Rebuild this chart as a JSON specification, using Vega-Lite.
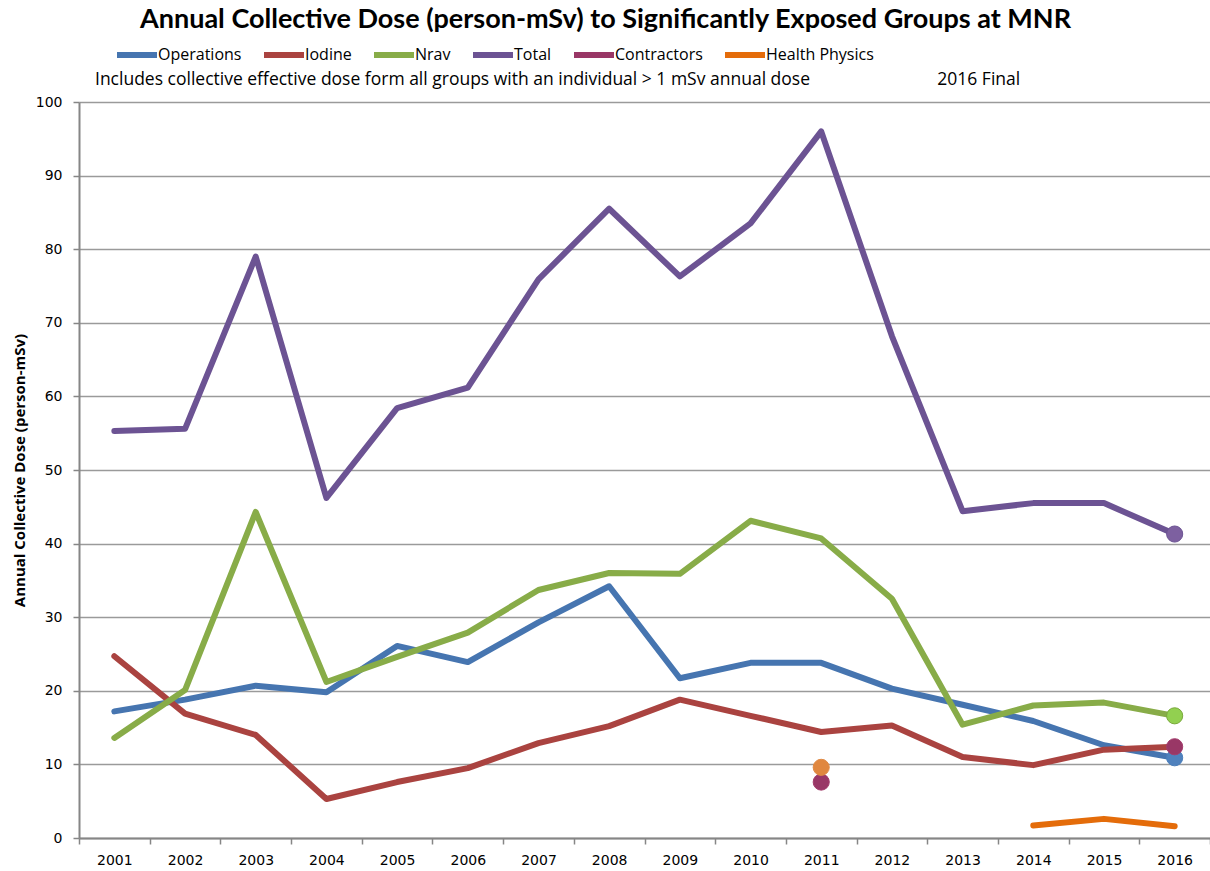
{
  "$schema": "https://vega.github.io/schema/vega-lite/v6.json",
  "autosize": {"type": "none"},
  "width": 1131,
  "height": 736,
  "padding": {"left": 79, "top": 102, "right": 0, "bottom": 33},
  "background": "white",
  "title": {
    "text": "Annual Collective Dose (person-mSv) to Significantly Exposed Groups at MNR",
    "anchor": "start",
    "frame": "group",
    "dx": 61,
    "offset": -2,
    "font": "Lato",
    "fontSize": 27,
    "fontWeight": "bold",
    "color": "#000000"
  },
  "data": {
    "values": [
      {"year": "2001", "series": "Operations", "dose": 17.2},
      {"year": "2002", "series": "Operations", "dose": 18.8},
      {"year": "2003", "series": "Operations", "dose": 20.7},
      {"year": "2004", "series": "Operations", "dose": 19.8},
      {"year": "2005", "series": "Operations", "dose": 26.1},
      {"year": "2006", "series": "Operations", "dose": 23.9},
      {"year": "2007", "series": "Operations", "dose": 29.3},
      {"year": "2008", "series": "Operations", "dose": 34.2},
      {"year": "2009", "series": "Operations", "dose": 21.7},
      {"year": "2010", "series": "Operations", "dose": 23.8},
      {"year": "2011", "series": "Operations", "dose": 23.8},
      {"year": "2012", "series": "Operations", "dose": 20.3},
      {"year": "2013", "series": "Operations", "dose": 18.1},
      {"year": "2014", "series": "Operations", "dose": 15.9},
      {"year": "2015", "series": "Operations", "dose": 12.6},
      {"year": "2016", "series": "Operations", "dose": 10.9},

      {"year": "2001", "series": "Iodine", "dose": 24.7},
      {"year": "2002", "series": "Iodine", "dose": 16.9},
      {"year": "2003", "series": "Iodine", "dose": 14.0},
      {"year": "2004", "series": "Iodine", "dose": 5.3},
      {"year": "2005", "series": "Iodine", "dose": 7.6},
      {"year": "2006", "series": "Iodine", "dose": 9.5},
      {"year": "2007", "series": "Iodine", "dose": 12.9},
      {"year": "2008", "series": "Iodine", "dose": 15.2},
      {"year": "2009", "series": "Iodine", "dose": 18.8},
      {"year": "2010", "series": "Iodine", "dose": 16.6},
      {"year": "2011", "series": "Iodine", "dose": 14.4},
      {"year": "2012", "series": "Iodine", "dose": 15.3},
      {"year": "2013", "series": "Iodine", "dose": 11.0},
      {"year": "2014", "series": "Iodine", "dose": 9.9},
      {"year": "2015", "series": "Iodine", "dose": 12.0},
      {"year": "2016", "series": "Iodine", "dose": 12.4},

      {"year": "2001", "series": "Nrav", "dose": 13.6},
      {"year": "2002", "series": "Nrav", "dose": 20.1},
      {"year": "2003", "series": "Nrav", "dose": 44.3},
      {"year": "2004", "series": "Nrav", "dose": 21.2},
      {"year": "2005", "series": "Nrav", "dose": 24.6},
      {"year": "2006", "series": "Nrav", "dose": 27.9},
      {"year": "2007", "series": "Nrav", "dose": 33.7},
      {"year": "2008", "series": "Nrav", "dose": 36.0},
      {"year": "2009", "series": "Nrav", "dose": 35.9},
      {"year": "2010", "series": "Nrav", "dose": 43.1},
      {"year": "2011", "series": "Nrav", "dose": 40.7},
      {"year": "2012", "series": "Nrav", "dose": 32.5},
      {"year": "2013", "series": "Nrav", "dose": 15.4},
      {"year": "2014", "series": "Nrav", "dose": 18.0},
      {"year": "2015", "series": "Nrav", "dose": 18.4},
      {"year": "2016", "series": "Nrav", "dose": 16.6},

      {"year": "2001", "series": "Total", "dose": 55.3},
      {"year": "2002", "series": "Total", "dose": 55.6},
      {"year": "2003", "series": "Total", "dose": 79.0},
      {"year": "2004", "series": "Total", "dose": 46.2},
      {"year": "2005", "series": "Total", "dose": 58.4},
      {"year": "2006", "series": "Total", "dose": 61.2},
      {"year": "2007", "series": "Total", "dose": 75.9},
      {"year": "2008", "series": "Total", "dose": 85.5},
      {"year": "2009", "series": "Total", "dose": 76.3},
      {"year": "2010", "series": "Total", "dose": 83.5},
      {"year": "2011", "series": "Total", "dose": 96.0},
      {"year": "2012", "series": "Total", "dose": 68.2},
      {"year": "2013", "series": "Total", "dose": 44.4},
      {"year": "2014", "series": "Total", "dose": 45.5},
      {"year": "2015", "series": "Total", "dose": 45.5},
      {"year": "2016", "series": "Total", "dose": 41.3},

      {"year": "2011", "series": "Contractors", "dose": 7.6},
      {"year": "2012", "series": "Contractors", "dose": null},
      {"year": "2013", "series": "Contractors", "dose": null},
      {"year": "2014", "series": "Contractors", "dose": null},
      {"year": "2015", "series": "Contractors", "dose": null},
      {"year": "2016", "series": "Contractors", "dose": 12.4},

      {"year": "2011", "series": "Health Physics", "dose": 9.6},
      {"year": "2012", "series": "Health Physics", "dose": null},
      {"year": "2013", "series": "Health Physics", "dose": null},
      {"year": "2014", "series": "Health Physics", "dose": 1.7},
      {"year": "2015", "series": "Health Physics", "dose": 2.6},
      {"year": "2016", "series": "Health Physics", "dose": 1.6}
    ]
  },
  "encoding": {
    "x": {
      "field": "year",
      "type": "ordinal",
      "scale": {"type": "band", "paddingInner": 0, "paddingOuter": 0},
      "axis": {
        "title": null,
        "labelAngle": 0,
        "labelFont": "DejaVu Sans",
        "labelFontSize": 14,
        "labelColor": "#000000",
        "labelPadding": 9,
        "domainColor": "#868686",
        "domainWidth": 2,
        "tickColor": "#868686",
        "tickWidth": 1.5,
        "tickSize": 6,
        "tickBand": "extent",
        "grid": false
      }
    },
    "y": {
      "field": "dose",
      "type": "quantitative",
      "scale": {"domain": [0, 100], "nice": false},
      "axis": {
        "title": "Annual Collective Dose (person-mSv)",
        "titleFont": "Open Sans",
        "titleFontSize": 15,
        "titleFontWeight": "bold",
        "titleColor": "#000000",
        "titlePadding": 8,
        "values": [0, 10, 20, 30, 40, 50, 60, 70, 80, 90, 100],
        "labelFont": "DejaVu Sans",
        "labelFontSize": 14,
        "labelColor": "#000000",
        "labelPadding": 11,
        "domainColor": "#868686",
        "domainWidth": 2,
        "tickColor": "#868686",
        "tickWidth": 1.5,
        "tickSize": 6,
        "gridColor": "#9a9a9a",
        "gridWidth": 1.5
      }
    }
  },
  "layer": [
    {
      "mark": {
        "type": "line",
        "strokeWidth": 6,
        "strokeCap": "round",
        "strokeJoin": "round",
        "invalid": "break-paths-show-domains"
      },
      "encoding": {
        "color": {
          "field": "series",
          "type": "nominal",
          "sort": ["Operations", "Iodine", "Nrav", "Total", "Contractors", "Health Physics"],
          "scale": {
            "domain": ["Operations", "Iodine", "Nrav", "Total", "Contractors", "Health Physics"],
            "range": ["#4675b0", "#aa4340", "#88ac48", "#6c5393", "#993766", "#e46c0a"]
          },
          "legend": {
            "title": "Includes collective effective dose form all groups with an individual > 1 mSv annual dose\u00a0\u00a0\u00a0\u00a0\u00a0\u00a0\u00a0\u00a0\u00a0\u00a0\u00a0\u00a0\u00a0\u00a0\u00a0\u00a0\u00a0\u00a0\u00a0\u00a0\u00a0\u00a0\u00a0\u00a0\u00a0\u00a0\u00a0\u00a02016 Final",
            "titleOrient": "bottom",
            "titleAnchor": "start",
            "titleFont": "Open Sans",
            "titleFontSize": 17.5,
            "titleFontWeight": "normal",
            "titleColor": "#000000",
            "titleLimit": 1100,
            "titlePadding": 4,
            "orient": "none",
            "direction": "horizontal",
            "legendX": 16,
            "legendY": -70,
            "symbolOffset": 19,
            "symbolType": "stroke",
            "symbolSize": 1600,
            "symbolStrokeWidth": 6,
            "labelOffset": -2,
            "columnPadding": -2,
            "labelFont": "Open Sans",
            "labelFontSize": 16,
            "labelColor": "#000000",
            "labelLimit": 300
          }
        }
      }
    },
    {
      "mark": {"type": "point", "filled": true, "size": 260, "opacity": 1, "strokeWidth": 1},
      "transform": [
        {"filter": "datum.dose != null"},
        {"filter": "datum.series === 'Contractors' || (datum.series === 'Health Physics' && datum.year === '2011') || (datum.year === '2016' && (datum.series === 'Operations' || datum.series === 'Nrav' || datum.series === 'Total'))"}
      ],
      "encoding": {
        "fill": {
          "field": "series",
          "type": "nominal",
          "scale": {
            "domain": ["Operations", "Nrav", "Total", "Contractors", "Health Physics"],
            "range": ["#4f81bd", "#92d050", "#7d60a0", "#993766", "#e0873f"]
          },
          "legend": null
        },
        "stroke": {
          "field": "series",
          "type": "nominal",
          "scale": {
            "domain": ["Operations", "Nrav", "Total", "Contractors", "Health Physics"],
            "range": ["#4a7ebb", "#7aa83c", "#6c5393", "#a33c6c", "#e08a45"]
          },
          "legend": null
        }
      }
    }
  ],
  "resolve": {"scale": {"fill": "independent", "stroke": "independent"}},
  "config": {
    "view": {"stroke": null}
  }
}
